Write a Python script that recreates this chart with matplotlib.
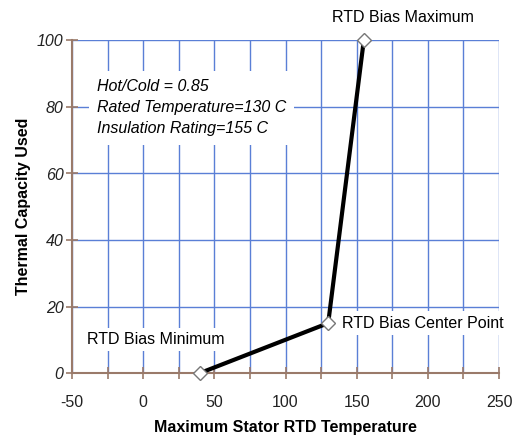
import matplotlib
matplotlib.use("Agg")
import matplotlib.pyplot as plt

# data
temps = [40, 130, 155]
capacity = [0, 15, 100]
point_names = ["RTD Bias Minimum", "RTD Bias Center Point", "RTD Bias Maximum"]
x_ticks = [-50, 0, 50, 100, 150, 200, 250]
x_minor = [-25, 25, 75, 125, 175, 225]
y_ticks = [0, 20, 40, 60, 80, 100]
note_lines = ["Hot/Cold = 0.85", "Rated Temperature=130 C", "Insulation Rating=155 C"]

plt.rcParams['font.family'] = ['Liberation Sans', 'DejaVu Sans']

fig = plt.figure(figsize=(5.14, 4.40), dpi=100)
ax = fig.add_axes([72/514, 1 - 373/440, (499-72)/514, (373-40.5)/440])

ax.set_xlim(-50, 250)
ax.set_ylim(0, 100)
ax.set_xticks(x_ticks + x_minor)
ax.set_xticklabels([str(t) for t in x_ticks] + [""] * len(x_minor))
ax.set_yticks(y_ticks)
ax.set_yticklabels([str(t) for t in y_ticks], fontstyle='italic', fontsize=11.5)

grid_col = '#5a7fd6'
ax.grid(True, color=grid_col, lw=1.0)
ax.set_axisbelow(True)
for s in ['top', 'right']:
    ax.spines[s].set_visible(False)
spine_col = '#9a7a6a'
for s in ['left', 'bottom']:
    ax.spines[s].set_color(spine_col)
    ax.spines[s].set_linewidth(1.5)
ax.tick_params(axis='both', direction='inout', length=8, color=spine_col, width=1.2,
               labelsize=11.5, labelcolor='#222222')
ax.tick_params(axis='x', pad=12)
ax.tick_params(axis='y', pad=2)

ax.plot(temps, capacity, color='black', lw=3, zorder=3,
        marker='D', ms=7, mfc='white', mec='#777777', mew=1, clip_on=False)

box = dict(facecolor='white', edgecolor='none', pad=3)
ax.text(temps[0] - 31, capacity[0] + 10, point_names[0], fontsize=11.5, ha='center',
        va='center', bbox=box, zorder=2)
ax.text(temps[1] + 9.5, capacity[1], point_names[1], fontsize=11.5, ha='left',
        va='center', bbox=box, zorder=2)
ax.text(temps[2] + 27.5, capacity[2] + 7, point_names[2], fontsize=11.5, ha='center',
        va='center', clip_on=False)

ax.text(-32.5, 79.7, "\n".join(note_lines), fontsize=11.5, fontstyle='italic',
        linespacing=1.5, ha='left', va='center', zorder=2,
        bbox=dict(facecolor='white', edgecolor='none', pad=6))

ax.set_xlabel("Maximum Stator RTD Temperature", fontsize=11.5, fontweight='bold', labelpad=7)
ax.set_ylabel("Thermal Capacity Used", fontsize=11.5, fontweight='bold', labelpad=4)

fig.savefig("out.png", dpi=100)
